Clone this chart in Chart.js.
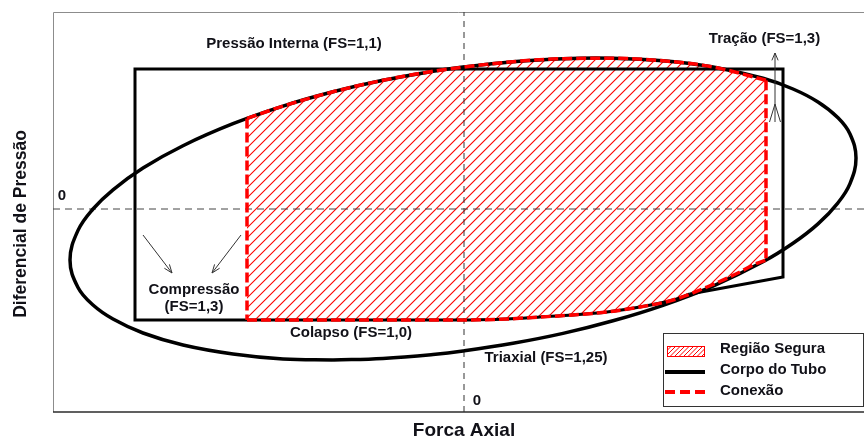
<!DOCTYPE html>
<html>
<head>
<meta charset="utf-8">
<script src="https://cdn.jsdelivr.net/npm/chart.js@4.4.1/dist/chart.umd.min.js"></script>
<style>
  html, body { margin: 0; padding: 0; background: #fff; }
  canvas { display: block; }
</style>
</head>
<body>
<canvas id="grafico" width="864" height="438"></canvas>
<script>
// Envelope triaxial (FS=1,25) - contorno fechado
const elipseX = [-1.31, -1.81, -2.31, -2.81, -3.21, -3.51, -3.71, -3.86, -3.94, -3.86, -3.71, -3.51, -3.21, -2.81, -2.31, -1.81, -1.31, -0.81, -0.31, -0.01, 0.49, 0.99, 1.49, 1.99, 2.49, 2.99, 3.29, 3.54, 3.74, 3.86, 3.92, 3.86, 3.74, 3.54, 3.29, 2.99, 2.49, 1.99, 1.49, 0.99, 0.49, -0.01, -0.31, -0.81, -1.31];
const elipseY = [-1.51, -1.50, -1.45, -1.36, -1.24, -1.10, -0.96, -0.785, -0.51, -0.214, 0.00, 0.192, 0.41, 0.633, 0.853, 1.029, 1.172, 1.287, 1.377, 1.42, 1.473, 1.503, 1.507, 1.482, 1.42, 1.307, 1.20, 1.07, 0.912, 0.75, 0.51, 0.254, 0.062, -0.149, -0.343, -0.528, -0.771, -0.963, -1.118, -1.244, -1.343, -1.42, -1.455, -1.494, -1.51];

// Corpo do tubo: compressão, pressão interna e tração (trechos retos)
const tuboRetaX = [0.00, -3.29, -3.29, 3.19, 3.19, 2.26];
const tuboRetaY = [-1.11, -1.11, 1.40, 1.40, -0.68, -0.85];
// Corpo do tubo: colapso sob tração
const tuboColapsoX = [0.00, 0.43, 0.76, 1.09, 1.43, 1.76, 2.09, 2.26];
const tuboColapsoY = [-1.11, -1.10, -1.08, -1.06, -1.03, -0.98, -0.91, -0.85];

// Conexão: limite superior (segue o envelope triaxial), limite inferior (colapso) e laterais
const conexaoTopoX = [-2.17, -1.81, -1.31, -0.81, -0.31, 0.00, 0.49, 0.99, 1.49, 1.99, 2.49, 3.02];
const conexaoTopoY = [0.906, 1.029, 1.172, 1.287, 1.377, 1.42, 1.473, 1.503, 1.507, 1.482, 1.42, 1.288];
const conexaoBaseX = [-2.17, 0.00, 0.43, 0.76, 1.09, 1.43, 1.76, 2.09, 2.43, 2.76, 2.89, 3.02];
const conexaoBaseY = [-1.11, -1.11, -1.10, -1.08, -1.06, -1.03, -0.98, -0.91, -0.78, -0.63, -0.56, -0.51];

// Limites dos eixos
const eixoX = [-4.11, 4.00];
const eixoY = [-2.03, 1.97];

// Rótulos das curvas (posição em unidades dos eixos)
const rotulos = [
  { texto: ['Pressão Interna (FS=1,1)'], x: -1.70, y: 1.65 },
  { texto: ['Tração (FS=1,3)'], x: 3.005, y: 1.70 },
  { texto: ['Compressão', '(FS=1,3)'], x: -2.70, y: -0.895 },
  { texto: ['Colapso (FS=1,0)'], x: -1.13, y: -1.24 },
  { texto: ['Triaxial (FS=1,25)'], x: 0.82, y: -1.49 },
  { texto: ['0'], x: -4.02, y: 0.13 },
  { texto: ['0'], x: 0.13, y: -1.92 }
];
// Setas de compressão: [x1, y1, x2, y2]
const setasCompressao = [
  [-3.21, -0.26, -2.92, -0.64],
  [-2.23, -0.26, -2.52, -0.64]
];
// Seta de tração: x, base, ponta, vértice do "Λ", abertura do "Λ"
const setaTracao = { x: 3.11, base: 0.87, ponta: 1.56, vertice: 1.05, abertura: 0.055 };

const pontos = (xs, ys) => xs.map((x, i) => ({ x, y: ys[i] }));
const topo = pontos(conexaoTopoX, conexaoTopoY);
const base = pontos(conexaoBaseX, conexaoBaseY);
// contorno fechado da região segura
const regiao = [...topo, ...base.slice().reverse(), topo[0]];

const FONTE = '"Liberation Sans", Arial, sans-serif';
const COR_TEXTO = '#111118';
const VERMELHO = '#ff0000';

function seta(g, x1, y1, x2, y2, cab, ang) {
  const a = Math.atan2(y2 - y1, x2 - x1);
  g.beginPath();
  g.moveTo(x1, y1); g.lineTo(x2, y2);
  g.moveTo(x2 - cab * Math.cos(a - ang), y2 - cab * Math.sin(a - ang));
  g.lineTo(x2, y2);
  g.lineTo(x2 - cab * Math.cos(a + ang), y2 - cab * Math.sin(a + ang));
  g.stroke();
}

// linhas diagonais (/) dentro da área já recortada
function tracarHachura(g, x0, y0, x1, y1, passo, largura) {
  const h = y1 - y0;
  g.strokeStyle = VERMELHO;
  g.lineWidth = largura;
  g.beginPath();
  for (let x = x0 - h; x <= x1 + passo; x += passo) {
    g.moveTo(x, y1);
    g.lineTo(x + h, y0);
  }
  g.stroke();
}

const anotacoes = {
  id: 'anotacoes',
  beforeDatasetsDraw(chart) {
    const g = chart.ctx, a = chart.chartArea;
    g.save();
    g.lineWidth = 1;
    g.strokeStyle = '#8c8c8c';
    g.beginPath();
    g.moveTo(a.left + 0.5, a.bottom);
    g.lineTo(a.left + 0.5, a.top + 0.5);
    g.lineTo(a.right, a.top + 0.5);
    g.stroke();
    g.restore();
  },
  beforeDatasetDraw(chart, args) {
    const ds = chart.data.datasets[args.index];
    if (!ds.hachura) return;
    const g = chart.ctx, a = chart.chartArea;
    const pts = args.meta.data;
    g.save();
    g.beginPath();
    pts.forEach((p, i) => (i ? g.lineTo(p.x, p.y) : g.moveTo(p.x, p.y)));
    g.closePath();
    g.clip();
    tracarHachura(g, a.left, a.top, a.right, a.bottom, 10, 1.1);
    g.restore();
  },
  afterDatasetsDraw(chart) {
    const g = chart.ctx, a = chart.chartArea;
    const sx = chart.scales.x, sy = chart.scales.y;
    g.save();
    // borda inferior
    g.strokeStyle = '#2b2b2b';
    g.lineWidth = 1.5;
    g.beginPath();
    g.moveTo(a.left, a.bottom); g.lineTo(a.right, a.bottom);
    g.stroke();

    // setas
    g.strokeStyle = '#333';
    g.lineWidth = 1;
    setasCompressao.forEach(s => seta(g, sx.getPixelForValue(s[0]), sy.getPixelForValue(s[1]), sx.getPixelForValue(s[2]), sy.getPixelForValue(s[3]), 9, 0.36));
    const tx = sx.getPixelForValue(setaTracao.x);
    seta(g, tx, sy.getPixelForValue(setaTracao.base), tx, sy.getPixelForValue(setaTracao.ponta), 8, 0.4);
    g.beginPath();
    g.moveTo(sx.getPixelForValue(setaTracao.x - setaTracao.abertura), sy.getPixelForValue(setaTracao.base));
    g.lineTo(tx, sy.getPixelForValue(setaTracao.vertice));
    g.lineTo(sx.getPixelForValue(setaTracao.x + setaTracao.abertura), sy.getPixelForValue(setaTracao.base));
    g.stroke();

    // rótulos
    g.fillStyle = COR_TEXTO;
    g.font = 'bold 15px ' + FONTE;
    g.textAlign = 'center';
    g.textBaseline = 'middle';
    rotulos.forEach(r => {
      const px = sx.getPixelForValue(r.x), py = sy.getPixelForValue(r.y);
      const n = r.texto.length;
      r.texto.forEach((t, i) => g.fillText(t, px, py + (i - (n - 1) / 2) * 17));
    });

    // legenda
    const L = { x: a.right - 201, y: a.bottom - 79, w: 200, h: 73 };
    g.fillStyle = '#fff';
    g.fillRect(L.x, L.y, L.w, L.h);
    g.strokeStyle = '#333';
    g.lineWidth = 1;
    g.strokeRect(L.x + 0.5, L.y + 0.5, L.w, L.h);
    g.save();
    g.beginPath();
    g.rect(L.x + 4, L.y + 13, 38, 11);
    g.clip();
    tracarHachura(g, L.x + 4, L.y + 13, L.x + 42, L.y + 24, 4.5, 1);
    g.restore();
    g.strokeStyle = VERMELHO;
    g.lineWidth = 1;
    g.strokeRect(L.x + 4.5, L.y + 13.5, 37, 10);
    g.strokeStyle = '#000';
    g.lineWidth = 4;
    g.beginPath(); g.moveTo(L.x + 2, L.y + 39); g.lineTo(L.x + 42, L.y + 39); g.stroke();
    g.strokeStyle = VERMELHO;
    g.setLineDash([10, 5]);
    g.beginPath(); g.moveTo(L.x + 2, L.y + 59); g.lineTo(L.x + 42, L.y + 59); g.stroke();
    g.setLineDash([]);
    g.fillStyle = COR_TEXTO;
    g.font = 'bold 15px ' + FONTE;
    g.textAlign = 'left';
    g.fillText('Região Segura', L.x + 57, L.y + 16);
    g.fillText('Corpo do Tubo', L.x + 57, L.y + 37);
    g.fillText('Conexão', L.x + 57, L.y + 58);

    // títulos dos eixos
    g.textAlign = 'center';
    g.font = 'bold 19px ' + FONTE;
    g.fillText('Forca Axial', sx.getPixelForValue(0), a.bottom + 19);
    g.save();
    g.translate(21, 224);
    g.rotate(-Math.PI / 2);
    g.font = 'bold 17.5px ' + FONTE;
    g.fillText('Diferencial de Pressão', 0, 0);
    g.restore();
    g.restore();
  }
};

const linha = (dados, extra) => Object.assign({
  data: dados,
  showLine: true,
  pointRadius: 0,
  pointHoverRadius: 0,
  fill: false,
  tension: 0,
  borderCapStyle: 'butt',
  borderJoinStyle: 'miter'
}, extra);

const conexao = { label: 'Conexão', borderColor: VERMELHO, borderWidth: 3.5, borderDash: [10, 4], order: 0 };

new Chart(document.getElementById('grafico'), {
  type: 'scatter',
  data: {
    datasets: [
      linha(topo, Object.assign({}, conexao, { cubicInterpolationMode: 'monotone' })),
      linha(base, Object.assign({}, conexao, { cubicInterpolationMode: 'monotone' })),
      linha([topo[0], base[0]], conexao),
      linha([topo[topo.length - 1], base[base.length - 1]], conexao),
      linha(pontos(tuboRetaX, tuboRetaY), { label: 'Corpo do Tubo', borderColor: '#000', borderWidth: 3, order: 1 }),
      linha(pontos(tuboColapsoX, tuboColapsoY), { label: 'Corpo do Tubo', borderColor: '#000', borderWidth: 3, cubicInterpolationMode: 'monotone', order: 1 }),
      linha(pontos(elipseX, elipseY), { label: 'Triaxial', borderColor: '#000', borderWidth: 3.5, tension: 0.4, borderJoinStyle: 'round', order: 2 }),
      linha([{ x: eixoX[0], y: 0 }, { x: eixoX[1], y: 0 }], { label: 'zero', borderColor: '#444', borderWidth: 1, borderDash: [7, 5], order: 3 }),
      linha([{ x: 0, y: eixoY[0] }, { x: 0, y: eixoY[1] }], { label: 'zero', borderColor: '#333', borderWidth: 1, borderDash: [6, 5], order: 3 }),
      linha(regiao, { label: 'Região Segura', hachura: true, borderWidth: 0, borderColor: 'rgba(0,0,0,0)', order: 4 })
    ]
  },
  options: {
    responsive: false,
    devicePixelRatio: 1,
    animation: false,
    events: [],
    layout: { padding: { left: 53, top: 12, right: 0, bottom: 26 } },
    scales: {
      x: { type: 'linear', min: eixoX[0], max: eixoX[1], display: false },
      y: { type: 'linear', min: eixoY[0], max: eixoY[1], display: false }
    },
    plugins: {
      legend: { display: false },
      tooltip: { enabled: false },
      title: { display: false }
    }
  },
  plugins: [anotacoes]
});
</script>
</body>
</html>
